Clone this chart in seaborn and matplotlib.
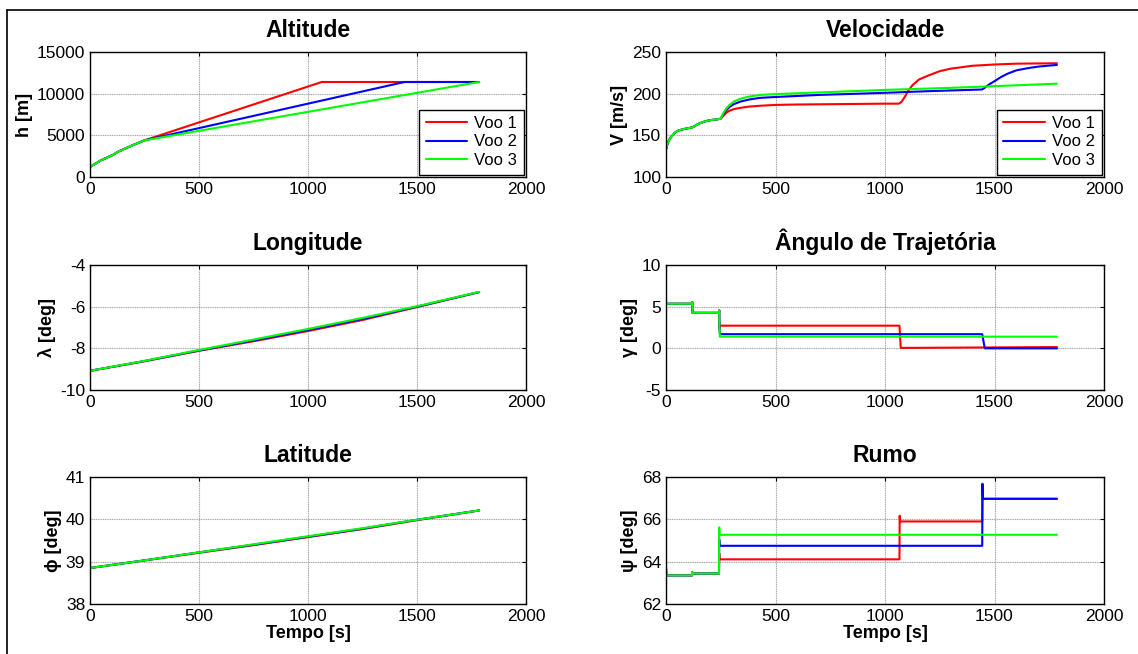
import numpy as np
import pandas as pd
import matplotlib
matplotlib.use("Agg")
import matplotlib.pyplot as plt
import seaborn as sns
from matplotlib.lines import Line2D

# ---------------- data ----------------
flights = ["Voo 1", "Voo 2", "Voo 3"]
colors = ["#ff0000", "#0000ff", "#00ff00"]

# Altitude [m]
alt_t_climb = [0, 50, 105, 130, 190, 250]
alt_h_climb = [1200, 2000, 2650, 3050, 3750, 4400]
alt_t1 = [1063, 1785]
alt_h1 = [11400, 11400]
alt_t2 = [1443, 1785]
alt_h2 = [11400, 11400]
alt_t3 = [1785]
alt_h3 = [11400]

# Velocidade [m/s]
vel_t_climb = [0, 5, 10, 20, 30, 40, 50, 60, 80, 100, 120, 130, 150, 170, 190, 210, 230, 250]
vel_v_climb = [133, 138, 142, 147, 150, 153, 155, 156, 157.5, 158.5, 159.5, 161, 164, 166, 167.5, 168.5, 169, 170]
vel_t1 = [260, 275, 290, 310, 340, 380, 430, 500, 600, 800, 1000, 1063, 1075, 1090, 1105, 1125, 1155, 1200, 1250, 1300, 1400, 1500, 1600, 1785]
vel_v1 = [173, 177, 179.5, 181.5, 183, 184.5, 185.5, 186.5, 187, 187.5, 188, 188, 190, 196, 203, 210, 217, 222, 227, 230, 233.5, 235, 236, 236.5]
vel_t2 = [260, 275, 290, 310, 340, 380, 430, 500, 700, 1000, 1200, 1443, 1455, 1475, 1500, 1530, 1560, 1600, 1650, 1700, 1785]
vel_v2 = [175, 180, 184, 187.5, 190.5, 193, 195, 196, 198.5, 201, 203, 205, 207, 211, 215, 220, 224, 228, 230.5, 232.5, 234.5]
vel_t3 = [260, 275, 290, 310, 340, 380, 430, 500, 700, 1000, 1300, 1500, 1785]
vel_v3 = [176, 182, 186.5, 190.5, 194, 196.5, 198.5, 199.5, 201.5, 204.5, 207, 209, 212]

# Longitude [deg]
lon_t = [0, 250, 500, 750, 1000, 1250, 1500, 1785]
lon_1 = [-9.08, -8.62, -8.12, -7.66, -7.17, -6.64, -6.02, -5.30]
lon_2 = [-9.08, -8.61, -8.10, -7.62, -7.12, -6.59, -6.00, -5.30]
lon_3 = [-9.08, -8.60, -8.08, -7.58, -7.07, -6.54, -5.98, -5.29]

# Latitude [deg]
lat_t = [0, 250, 500, 750, 1000, 1250, 1500, 1785]
lat_1 = [38.85, 39.03, 39.21, 39.39, 39.58, 39.77, 39.98, 40.21]
lat_2 = [38.85, 39.03, 39.22, 39.40, 39.59, 39.78, 39.99, 40.21]
lat_3 = [38.85, 39.03, 39.22, 39.41, 39.60, 39.79, 39.99, 40.21]

# Angulo de trajetoria [deg]
gam_t_climb = [0, 119, 120, 121, 242, 243, 244]
gam_v_climb = [5.35, 5.35, 5.55, 4.26, 4.26, 4.55, 2.4]
gam_t1 = [246, 1066, 1072, 1785]
gam_v1 = [2.72, 2.72, 0.05, 0.15]
gam_t2 = [246, 1444, 1452, 1456, 1785]
gam_v2 = [1.70, 1.70, 0.5, 0.0, 0.0]
gam_t3 = [246, 1785]
gam_v3 = [1.40, 1.40]

# Rumo [deg]
psi_t_climb = [0, 1, 2, 119, 120, 121, 242]
psi_v_climb = [63.7, 63.5, 63.35, 63.35, 63.5, 63.44, 63.44]
psi_t1 = [243, 245, 1066, 1067, 1069, 1444, 1445, 1447, 1785]
psi_v1 = [64.4, 64.11, 64.11, 66.17, 65.9, 65.9, 67.0, 66.97, 66.97]
psi_t2 = [243, 245, 1444, 1445, 1447, 1785]
psi_v2 = [65.06, 64.75, 64.75, 67.68, 66.97, 66.97]
psi_t3 = [243, 245, 1785]
psi_v3 = [65.62, 65.27, 65.27]


def long_df(series):
    frames = []
    for name, (t, v) in zip(flights, series):
        frames.append(pd.DataFrame({"t": t, "v": v, "voo": name}))
    return pd.concat(frames, ignore_index=True)


alt_df = long_df([(alt_t_climb + alt_t1, alt_h_climb + alt_h1),
                  (alt_t_climb + alt_t2, alt_h_climb + alt_h2),
                  (alt_t_climb + alt_t3, alt_h_climb + alt_h3)])
vel_df = long_df([(vel_t_climb + vel_t1, vel_v_climb + vel_v1),
                  (vel_t_climb + vel_t2, vel_v_climb + vel_v2),
                  (vel_t_climb + vel_t3, vel_v_climb + vel_v3)])
lon_df = long_df([(lon_t, lon_1), (lon_t, lon_2), (lon_t, lon_3)])
lat_df = long_df([(lat_t, lat_1), (lat_t, lat_2), (lat_t, lat_3)])
gam_df = long_df([(gam_t_climb + gam_t1, gam_v_climb + gam_v1),
                  (gam_t_climb + gam_t2, gam_v_climb + gam_v2),
                  (gam_t_climb + gam_t3, gam_v_climb + gam_v3)])
psi_df = long_df([(psi_t_climb + psi_t1, psi_v_climb + psi_v1),
                  (psi_t_climb + psi_t2, psi_v_climb + psi_v2),
                  (psi_t_climb + psi_t3, psi_v_climb + psi_v3)])

# ---------------- style ----------------
sns.set_theme(style="white")
plt.rcParams["font.family"] = ["Liberation Sans", "DejaVu Sans"]
plt.rcParams["axes.edgecolor"] = "black"
plt.rcParams["axes.linewidth"] = 1.0
plt.rcParams["axes.unicode_minus"] = False
plt.rcParams["text.color"] = "black"
plt.rcParams["axes.labelcolor"] = "black"
plt.rcParams["xtick.color"] = "black"
plt.rcParams["ytick.color"] = "black"

W, H = 1138, 654
fig = plt.figure(figsize=(W / 100, H / 100), dpi=100)
fig.patch.set_facecolor("white")


def px_axes(x0, y0, x1, y1):
    return fig.add_axes([x0 / W, 1 - y1 / H, (x1 - x0) / W, (y1 - y0) / H])


panels = [
    (alt_df, "Altitude", "h [m]", (0, 15000), [0, 5000, 10000, 15000], (90, 52, 526, 177), True, False),
    (vel_df, "Velocidade", "V [m/s]", (100, 250), [100, 150, 200, 250], (666, 52, 1104, 177), True, False),
    (lon_df, "Longitude", "λ [deg]", (-10, -4), [-10, -8, -6, -4], (90, 265, 526, 390), False, False),
    (gam_df, "Ângulo de Trajetória", "γ [deg]", (-5, 10), [-5, 0, 5, 10], (666, 265, 1104, 390), False, False),
    (lat_df, "Latitude", "ϕ [deg]", (38, 41), [38, 39, 40, 41], (90, 477, 526, 604), False, True),
    (psi_df, "Rumo", "ψ [deg]", (62, 68), [62, 64, 66, 68], (666, 477, 1104, 604), False, True),
]

for df, title, ylab, ylim, yticks, box, show_leg, show_xlab in panels:
    ax = px_axes(*box)
    sns.lineplot(data=df, x="t", y="v", hue="voo", hue_order=flights,
                 palette=colors, estimator=None, sort=False,
                 linewidth=1.5, ax=ax, legend=show_leg)
    ax.set_xlim(0, 2000)
    ax.set_xticks([0, 500, 1000, 1500, 2000])
    ax.set_ylim(*ylim)
    ax.set_yticks(yticks)
    ax.grid(True, color="#a8a8a8", linewidth=0.8, linestyle=(0, (1, 0.6)))
    ax.set_axisbelow(True)
    ax.tick_params(direction="in", top=True, right=True, length=3, width=0.8,
                   labelsize=12.5, colors="black", pad=3.5)
    for sp in ax.spines.values():
        sp.set_visible(True)
        sp.set_color("black")
        sp.set_linewidth(1.0)
    ax.set_title(title, fontsize=16.5, fontweight="bold", pad=11, color="black")
    ax.set_ylabel(ylab, fontsize=13, fontweight="bold", labelpad=3)
    if show_xlab:
        ax.set_xlabel("Tempo [s]", fontsize=13, fontweight="bold", labelpad=1)
    else:
        ax.set_xlabel("")
    if show_leg:
        leg = ax.legend(loc="lower right", fontsize=12, frameon=True, fancybox=False,
                        edgecolor="black", framealpha=1, handlelength=2.5,
                        borderaxespad=0.15, borderpad=0.4, labelspacing=0.2,
                        handletextpad=0.4)
        leg.get_frame().set_linewidth(1.0)
        for lh in leg.get_lines():
            lh.set_linewidth(1.5)

# outer frame lines (cropped screenshot border)
fig.add_artist(Line2D([7 / W, 1.0], [1 - 9.5 / H, 1 - 9.5 / H], color="black", linewidth=1.2))
fig.add_artist(Line2D([7 / W, 7 / W], [0.0, 1 - 9.5 / H], color="black", linewidth=1.2))

fig.savefig("out.png", dpi=100, facecolor="white")
